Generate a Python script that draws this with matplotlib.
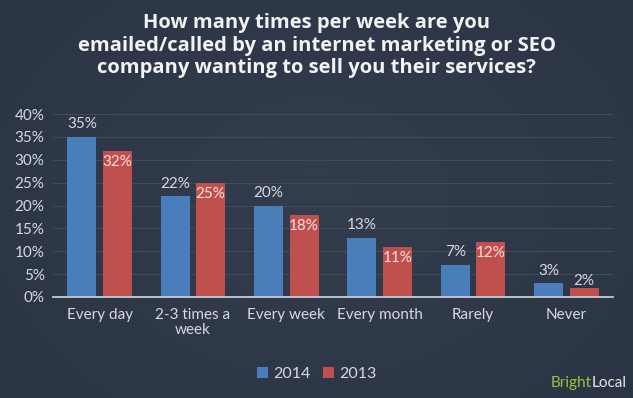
import numpy as np
import matplotlib.pyplot as plt

categories = ["Every day", "2-3 times a\nweek", "Every week", "Every month", "Rarely", "Never"]
vals_2014 = [35, 22, 20, 13, 7, 3]
vals_2013 = [32, 25, 18, 11, 12, 2]
yticks = [0, 5, 10, 15, 20, 25, 30, 35, 40]

bg = "#2c3545"
blue = "#4a7ebb"
red = "#c0504d"
txt = "#d6d9de"

plt.rcParams['font.family'] = ['Lato', 'DejaVu Sans']

fig = plt.figure(figsize=(6.33, 3.98), dpi=100, facecolor=bg)

# faint radial glow behind the chart
bgax = fig.add_axes([0, 0, 1, 1], zorder=-10)
yy, xx = np.mgrid[0:398, 0:633]
r = np.hypot(xx - 316, (yy - 200) * 1.3)
glow = np.clip(1 - r / 420, 0, 1) * 0.035
base = np.array([0x2a, 0x34, 0x45]) / 255
img = base[None, None, :] + glow[:, :, None]
bgax.imshow(np.clip(img, 0, 1), aspect='auto', extent=[0, 1, 0, 1])
bgax.axis('off')

ax = fig.add_axes([53 / 633, 1 - 297 / 398, 560 / 633, 183 / 398])
ax.set_facecolor('none')

x = np.arange(len(categories))
w = 0.31
off = 0.19
b1 = ax.bar(x - off, vals_2014, w, color=blue, label="2014", zorder=3)
b2 = ax.bar(x + off, vals_2013, w, color=red, label="2013", zorder=3)

for xi, v in zip(x, vals_2014):
    ax.annotate(f"{v}%", (xi - off, v), xytext=(0, 4), textcoords='offset points',
                ha='center', va='bottom', color=txt, fontsize=11, zorder=4)
for xi, v in zip(x, vals_2013):
    if v >= 5:
        ax.annotate(f"{v}%", (xi + off, v), xytext=(0, -3), textcoords='offset points',
                    ha='center', va='top', color="#f3e1e0", fontsize=11, zorder=4)
    else:
        ax.annotate(f"{v}%", (xi + off, v), xytext=(0, 0), textcoords='offset points',
                    ha='center', va='bottom', color=txt, fontsize=11, zorder=4)

ax.set_xlim(-0.5, len(categories) - 0.5)
ax.set_ylim(0, 40)
ax.set_yticks(yticks)
ax.set_yticklabels([f"{t}%" for t in yticks])
ax.set_xticks(x)
ax.set_xticklabels(categories, linespacing=1.1)
ax.tick_params(axis='both', length=0, colors=txt, labelsize=11)
ax.tick_params(axis='x', pad=8)
ax.tick_params(axis='y', pad=6)
ax.grid(axis='y', color="#414b5a", linewidth=0.8, zorder=0)
for s in ['top', 'right', 'left']:
    ax.spines[s].set_visible(False)
ax.spines['bottom'].set_color("#c8ccd2")
ax.spines['bottom'].set_linewidth(1.3)
ax.spines['bottom'].set_zorder(5)

fig.text(0.5, 0.967, "How many times per week are you\nemailed/called by an internet marketing or SEO\ncompany wanting to sell you their services?",
         ha='center', va='top', color="#f2f2f2", fontsize=14.5, fontweight='bold',
         linespacing=1.17, family=['Open Sans', 'DejaVu Sans'])

leg = fig.legend(handles=[b1, b2], loc='center', bbox_to_anchor=(0.5, 1 - 374 / 398),
                 ncol=2, frameon=False, fontsize=11.5, handlelength=0.7, handleheight=0.7,
                 handletextpad=0.3, columnspacing=0.8)
for t in leg.get_texts():
    t.set_color(txt)

local = fig.text(0.99, 0.02, "Local", ha='right', va='bottom', color="#e6e6e6", fontsize=11)
fig.canvas.draw()
ax.annotate("Bright", xy=(0, 0), xycoords=local, ha='right', va='bottom',
            color="#9cc23a", fontsize=11)

fig.savefig("out.png", dpi=100, facecolor=bg)
